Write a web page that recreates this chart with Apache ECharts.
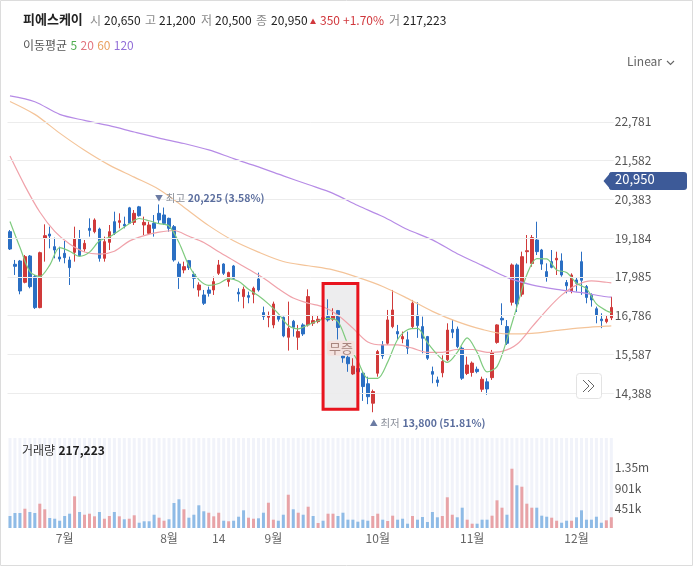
<!DOCTYPE html>
<html><head><meta charset="utf-8">
<script src="https://cdn.jsdelivr.net/npm/echarts@6.0.0/dist/echarts.min.js"></script>
<style>html,body{margin:0;padding:0;background:#fff}#c{width:693px;height:566px}</style>
</head><body><div id="c"></div><script>
// ---------- DATA ----------
const stockName = '피에스케이';
const lastPrice = 20950;
const quote = {open: '20,650', high: '21,200', low: '20,500', close: '20,950', change: '350', pct: '+1.70%', vol: '217,223'};

const opens  = [19383,18374,18477,17817,18631,17993,17035,19177,19311,18919,
                18600,18714,18508,18744,19167,18847,19486,19383,19465,18559,
                19053,19692,19671,19610,20120,19671,20150,19589,19332,19641,
                19950,19900,19795,19538,18384,18199,18487,18065,17581,17426,
                17580,17581,18096,18384,17839,18323,17509,17375,17406,17447,
                17921,16881,16736,16500,16777,16736,16118,16613,16118,16500,
                16500,16551,16603,16690,16757,16675,16942,15542,15500,14985,
                15150,15006,14680,14079,15006,15882,15933,16448,16294,16067,
                16040,16448,16800,16448,16139,15058,14800,15020,15420,16360,
                16370,15779,15000,15030,15129,14510,14740,14870,15960,16704,
                16450,17200,18354,17450,18765,18400,19126,18817,18148,18457,
                18510,18480,17810,17550,17890,18456,17684,17410,17000,16680,
                16602,16720];
const closes = [18847,18312,17550,18611,17683,17035,18734,19260,19249,18816,
                18538,18580,18271,19156,18641,19022,19424,19744,18559,19074,
                19383,19332,19723,19558,19641,19950,19877,19671,19589,19486,
                19744,19640,19486,18508,17993,18302,18271,17941,17735,17169,
                17478,17839,18354,18096,18117,17941,17457,17601,17354,17633,
                17581,16757,16777,17148,16675,16160,16397,16427,16294,16221,
                17375,16634,16675,16720,16654,16777,16420,15480,15300,15225,
                15050,14594,14280,14439,15676,15542,16654,16963,16221,16139,
                15780,17169,16480,16087,15470,14975,14720,15370,16340,16270,
                15830,14852,15260,15320,15057,14820,14520,15630,16500,16654,
                15933,18354,17150,18610,18795,19200,18766,18380,17993,18280,
                18560,18044,17710,18044,17787,17880,17350,17272,16808,16630,
                16680,17040];
const lows   = [18816,18044,17447,17786,17632,16994,17014,18456,18868,18559,
                18456,18405,17735,18456,18611,18765,19229,19332,18456,18456,
                18816,19280,19486,19486,19620,19589,19847,19280,19280,19229,
                19641,19590,19383,18456,17612,18096,18199,17632,17375,17117,
                17375,17426,18044,18044,17684,17910,17220,17014,17169,17169,
                17530,16654,16427,16397,16603,16118,15706,16139,15727,16160,
                16450,16469,16551,16600,16603,16623,16050,15330,15050,14954,
                14950,14150,14050,13800,14900,15450,15880,16397,16036,15933,
                15573,16397,16100,15623,15417,14696,14593,14880,15380,16090,
                15780,14799,14950,14900,15005,14430,14340,14800,15920,16498,
                15880,17100,16900,17374,18404,18300,18661,18200,17838,18250,
                18043,17992,17477,17477,17530,17430,17168,17065,16550,16400,
                16550,16650];
const highs  = [19435,18508,18508,18662,18662,18044,18765,19610,19538,19198,
                18919,19095,18611,19538,19435,19126,19795,19795,19507,19229,
                19589,20001,19950,19847,20150,20053,20180,19847,19692,19898,
                20225,20130,19816,19589,18456,18456,18508,18147,17817,17581,
                17684,17993,18508,18405,18147,18354,17633,17684,17529,17684,
                18117,17066,16912,17220,16809,16757,17220,16654,16500,16551,
                17600,16809,16809,16850,17292,17014,16963,15750,15573,15470,
                15250,15058,14900,14500,15727,16000,16963,17581,16500,16294,
                16294,17272,17200,16756,16160,15211,14902,15560,16550,16650,
                16450,15829,15520,15370,15211,14900,14850,15726,16520,17168,
                16650,18400,18400,18765,19280,19280,19691,18850,18404,18816,
                18764,18713,17889,18095,17960,18764,17734,17477,17065,16860,
                16807,17370];
const volumes = [270000,338000,338000,434000,360000,338000,547000,421000,225000,209000,
                 164000,270000,322000,713000,360000,299000,322000,263000,360000,209000,
                 270000,360000,263000,196000,209000,286000,119000,151000,151000,299000,
                 232000,164000,196000,563000,646000,421000,232000,299000,511000,376000,
                 344000,263000,344000,164000,151000,164000,254000,398000,232000,209000,
                 218000,344000,569000,187000,164000,299000,749000,421000,344000,299000,
                 479000,270000,113000,164000,322000,322000,270000,344000,187000,187000,
                 142000,187000,164000,270000,322000,187000,158000,277000,187000,209000,
                 97000,270000,187000,248000,135000,360000,241000,270000,691000,299000,
                 241000,457000,187000,97000,97000,187000,187000,277000,623000,457000,
                 299000,1334000,961000,929000,547000,457000,457000,277000,254000,232000,
                 164000,119000,164000,164000,241000,398000,187000,187000,254000,119000,
                 173000,241000];
// u = 상승(red), d = 하락(blue)
const volumeDirection = ('dddudduudd' + 'ddduduuudu' + 'ududuudddd' + 'uudddudddd' +
                         'uuududdduu' + 'dduuddudud' + 'ududuudddd' + 'ddduuduudd' +
                         'duddddduuu' + 'dduuddduuu' + 'duduuudddu' + 'uddudddddd' + 'uu').split('');

// moving averages: [day index, value]
const ma5 = [[0,19700],[2,18900],[4,18150],[6,18000],[8,18350],[10,18890],[12,18780],[14,18620],[16,18750],[18,19100],
  [20,19220],[22,19420],[24,19630],[26,19790],[28,19720],[30,19630],[32,19560],[34,19050],[36,18330],[38,17900],
  [40,17720],[42,17780],[44,17930],[46,17850],[48,17600],[50,17400],[52,17150],[54,16850],[56,16480],[58,16380],
  [60,16500],[62,16630],[64,16700],[66,16600],[68,15900],[70,15380],[72,14850],[74,14850],[76,15350],[78,16050],
  [80,16350],[82,16390],[84,15950],[86,15580],[88,15340],[90,15650],[92,16100],[94,15650],[96,15050],[98,15212],
  [100,16050],[102,17060],[104,18050],[106,18550],[108,18540],[110,18200],[112,18120],[114,17790],[116,17620],
  [118,17150],[120,16940],[121,16880]];
const ma20 = [[0,21720],[3,20800],[6,19990],[9,19390],[12,19000],[15,18755],[18,18690],[21,18780],[24,19090],
  [27,19260],[30,19370],[33,19420],[36,19240],[39,19050],[42,18760],[45,18490],[48,18220],[51,17950],[54,17620],
  [57,17330],[60,17170],[63,17060],[66,16800],[69,16400],[72,15970],[75,15880],[78,15880],[81,15780],[84,15650],
  [87,15650],[90,15740],[93,15740],[96,15650],[99,15680],[102,15900],[105,16430],[108,16960],[111,17420],
  [114,17730],[117,17860],[120,17820],[121,17800]];
const ma60 = [[0,23410],[5,23010],[10,22430],[15,21900],[20,21440],[25,21070],[30,20690],[35,20140],[40,19570],
  [45,19100],[50,18750],[55,18460],[60,18330],[65,18200],[70,17970],[75,17690],[80,17320],[85,16920],[90,16600],
  [95,16360],[100,16220],[105,16240],[110,16330],[115,16410],[120,16460],[121,16470]];
const ma120 = [[0,23580],[5,23400],[10,23010],[15,22824],[20,22660],[25,22465],[30,22277],[35,22109],[40,21910],
  [45,21640],[50,21385],[55,21110],[60,20840],[65,20568],[70,20190],[75,19850],[80,19450],[85,19130],[90,18700],
  [95,18340],[100,17970],[105,17740],[110,17600],[115,17500],[120,17370],[121,17360]];

const priceTicks = [14388, 15587, 16786, 17985, 19184, 20383, 21582, 22781];
const volumeTickLabels = {450500: '451k', 901000: '901k', 1351500: '1.35m'};
const monthTicks = [[11, '7월'], [32, '8월'], [42, '14'], [53, '9월'], [74, '10월'], [93, '11월'], [114, '12월']];
const eventBox = {from: 63, to: 70, top: 17780, bottom: 13890, label: '무증', labelPrice: 15782};

// ---------- STYLE ----------
const FONT = "'Noto Sans CJK KR', 'Noto Sans', sans-serif";
const UP = '#d03a3a', DOWN = '#2b6fc3';
const VOL_UP = '#e8a3a7', VOL_DOWN = '#8fbbe6';
const C5 = '#7fcb7f', C20 = '#f0a2aa', C60 = '#f4c499', C120 = '#b68be6';

const categories = opens.map((_, i) => 'd' + i);
const candleData = opens.map((o, i) => [o, closes[i], lows[i], highs[i]]);
const volData = volumes.map((v, i) => ({value: v, itemStyle: {color: volumeDirection[i] === 'u' ? VOL_UP : VOL_DOWN}}));
const monthMap = new Map(monthTicks);
const fmt = v => Math.round(v).toLocaleString('en-US');

const chart = echarts.init(document.getElementById('c'), null, {renderer: 'canvas'});
const gridLeft = 7.5, gridW = 606.3;
function maSeries(name, pts, color) {
  return {name, type: 'line', xAxisIndex: 0, yAxisIndex: 0, data: pts, smooth: 0.3, showSymbol: false,
    symbol: 'none', lineStyle: {color, width: 1.2}, z: 3, silent: true};
}
const extremeRich = {a: {color: '#6b7ba3', fontSize: 8}, b: {color: '#8a8f9a', fontSize: 10.5, fontFamily: FONT},
  c: {color: '#5b6e9e', fontSize: 10.5, fontWeight: 'bold', fontFamily: FONT}};
chart.setOption({
  animation: false,
  textStyle: {fontFamily: FONT},
  grid: [
    {left: gridLeft, width: gridW, top: 83, height: 349},
    {left: gridLeft, width: gridW, top: 438, height: 90}
  ],
  xAxis: [
    {type: 'category', gridIndex: 0, data: categories, show: false},
    {type: 'category', gridIndex: 1, data: categories, axisLine: {show: false}, axisTick: {show: false},
      axisLabel: {interval: (idx) => monthMap.has(idx), formatter: (v, idx) => monthMap.get(idx) || '',
        color: '#666', fontSize: 12, margin: 4, fontFamily: FONT}}
  ],
  yAxis: [
    {type: 'value', gridIndex: 0, position: 'right', min: 13189, max: 23980, interval: 1199,
      axisLine: {show: false}, axisTick: {show: false}, splitLine: {show: false},
      axisLabel: {formatter: v => priceTicks.includes(v) ? fmt(v) : '', color: '#555', fontSize: 12, margin: 1, fontFamily: FONT}},
    {type: 'value', gridIndex: 1, position: 'right', min: 0, max: 2025000, interval: 450500,
      axisLine: {show: false}, axisTick: {show: false}, splitLine: {show: false},
      axisLabel: {formatter: v => volumeTickLabels[v] || '', color: '#555', fontSize: 12, margin: 1, fontFamily: FONT}}
  ],
  series: [
    {type: 'line', xAxisIndex: 0, yAxisIndex: 0, data: [], z: 1, silent: true,
      markLine: {silent: true, symbol: 'none', label: {show: false}, animation: false,
        lineStyle: {color: '#ececec', type: 'solid', width: 1},
        data: priceTicks.map(v => ({yAxis: v}))}},
    {type: 'candlestick', xAxisIndex: 0, yAxisIndex: 0, data: candleData, barWidth: 3, z: 2,
      itemStyle: {color: UP, color0: DOWN, borderColor: UP, borderColor0: DOWN, borderWidth: 1},
      markPoint: {symbol: 'circle', symbolSize: 0, animation: false,
        data: [
          {type: 'max', valueDim: 'highest', label: {show: true, position: [-4, -6], align: 'left', verticalAlign: 'middle',
            formatter: p => '{a|▼} {b|최고} {c|' + fmt(p.value) + ' (' + ((lastPrice / p.value - 1) * 100).toFixed(2) + '%)}',
            rich: extremeRich}},
          {type: 'min', valueDim: 'lowest', label: {show: true, position: [-3, 11], align: 'left', verticalAlign: 'middle',
            formatter: p => '{a|▲} {b|최저} {c|' + fmt(p.value) + ' (' + ((lastPrice / p.value - 1) * 100).toFixed(2) + '%)}',
            rich: extremeRich}}
        ]}},
    maSeries('MA120', ma120, C120),
    maSeries('MA60', ma60, C60),
    maSeries('MA20', ma20, C20),
    maSeries('MA5', ma5, C5),
    {type: 'bar', xAxisIndex: 1, yAxisIndex: 1, data: volData, barWidth: 3,
      showBackground: true, backgroundStyle: {color: '#f1f3fa'}, silent: true}
  ]
});

// ---------- DECORATIONS (positioned from data through the axes) ----------
function px(i, v) { return chart.convertToPixel({gridIndex: 0}, [i, v]); }
const bTL = px(eventBox.from, eventBox.top), bBR = px(eventBox.to, eventBox.bottom);
const lbl = px((eventBox.from + eventBox.to) / 2, eventBox.labelPrice);
const tagY = px(0, lastPrice)[1];
const t = (left, text, fill, font) => ({type: 'text', left, top: 14, style: {text, fill, font}});
const F13 = '13px ' + FONT, F12 = '12px ' + FONT;
chart.setOption({
  graphic: [
    {type: 'rect', shape: {x: 0.5, y: 0.5, width: 692, height: 565}, style: {fill: 'none', stroke: '#dcdcdc', lineWidth: 1}, z: 0, silent: true},
    // header line 1
    {type: 'text', left: 23, top: 13, style: {text: stockName, fill: '#222', font: 'bold 13px ' + FONT}},
    t(90, '시', '#8a8a8a', F12), t(104, quote.open, '#222', F12),
    t(145, '고', '#8a8a8a', F12), t(159, quote.high, '#222', F12),
    t(201, '저', '#8a8a8a', F12), t(215, quote.low, '#222', F12),
    t(256, '종', '#8a8a8a', F12), t(271, quote.close, '#222', F12),
    {type: 'polygon', shape: {points: [[310, 24], [313, 18.5], [316, 24]]}, style: {fill: '#d1383d'}},
    t(320, quote.change, '#d1383d', F12), t(343, quote.pct, '#d1383d', F12),
    t(389, '거', '#8a8a8a', F12), t(403, quote.vol, '#222', F12),
    // header line 2 (MA legend)
    {type: 'text', left: 23, top: 39, style: {
      text: '{l|이동평균} {g|5} {p|20} {o|60} {u|120}',
      rich: {l: {fill: '#555', font: F12}, g: {fill: '#4fae4f', font: F12}, p: {fill: '#e2757f', font: F12},
        o: {fill: '#e9a15f', font: F12}, u: {fill: '#9370d8', font: F12}}}},
    // Linear selector
    {type: 'text', left: 627, top: 55, style: {text: 'Linear', fill: '#666', font: F12}},
    {type: 'polyline', shape: {points: [[667, 61], [670.5, 64.5], [674, 61]]}, style: {stroke: '#666', lineWidth: 1.1, fill: 'none'}},
    // event box
    {type: 'rect', z: 1, silent: true, shape: {x: bTL[0], y: bTL[1], width: bBR[0] - bTL[0], height: bBR[1] - bTL[1]},
      style: {fill: 'rgba(215,215,218,0.45)'}},
    {type: 'rect', z: 50, silent: true, shape: {x: bTL[0], y: bTL[1], width: bBR[0] - bTL[0], height: bBR[1] - bTL[1]},
      style: {fill: 'none', stroke: '#e8141e', lineWidth: 3}},
    {type: 'text', z: 51, x: lbl[0] - 2, y: lbl[1], style: {text: eventBox.label, fill: '#a8857e', font: F13,
      align: 'center', verticalAlign: 'middle', backgroundColor: 'rgba(244,226,222,0.95)', padding: [1, 2], borderRadius: 3}},
    // last price tag
    {type: 'polygon', z: 60, shape: {points: [[603.5, tagY], [611, tagY - 9], [611, tagY + 9]]}, style: {fill: '#3d5a98'}},
    {type: 'rect', z: 60, shape: {x: 609, y: tagY - 9, width: 78, height: 18, r: 3}, style: {fill: '#3d5a98'}},
    {type: 'text', z: 61, left: 615, top: tagY - 8, style: {text: fmt(lastPrice), fill: '#fff', font: F13}},
    // scroll button
    {type: 'rect', z: 60, shape: {x: 576.5, y: 373.5, width: 25, height: 25, r: 3}, style: {fill: '#fff', stroke: '#e3e3e3', lineWidth: 1}},
    {type: 'polyline', z: 61, shape: {points: [[583, 380], [589, 386], [583, 392]]}, style: {stroke: '#666', lineWidth: 1, fill: 'none'}},
    {type: 'polyline', z: 61, shape: {points: [[588, 380], [594, 386], [588, 392]]}, style: {stroke: '#666', lineWidth: 1, fill: 'none'}},
    // volume title
    {type: 'text', z: 60, left: 22, top: 444, style: {
      text: '{l|거래량} {v|' + quote.vol + '}', rich: {l: {fill: '#333', font: F12}, v: {fill: '#222', font: 'bold 12px ' + FONT}}}}
  ]
});
</script></body></html>
